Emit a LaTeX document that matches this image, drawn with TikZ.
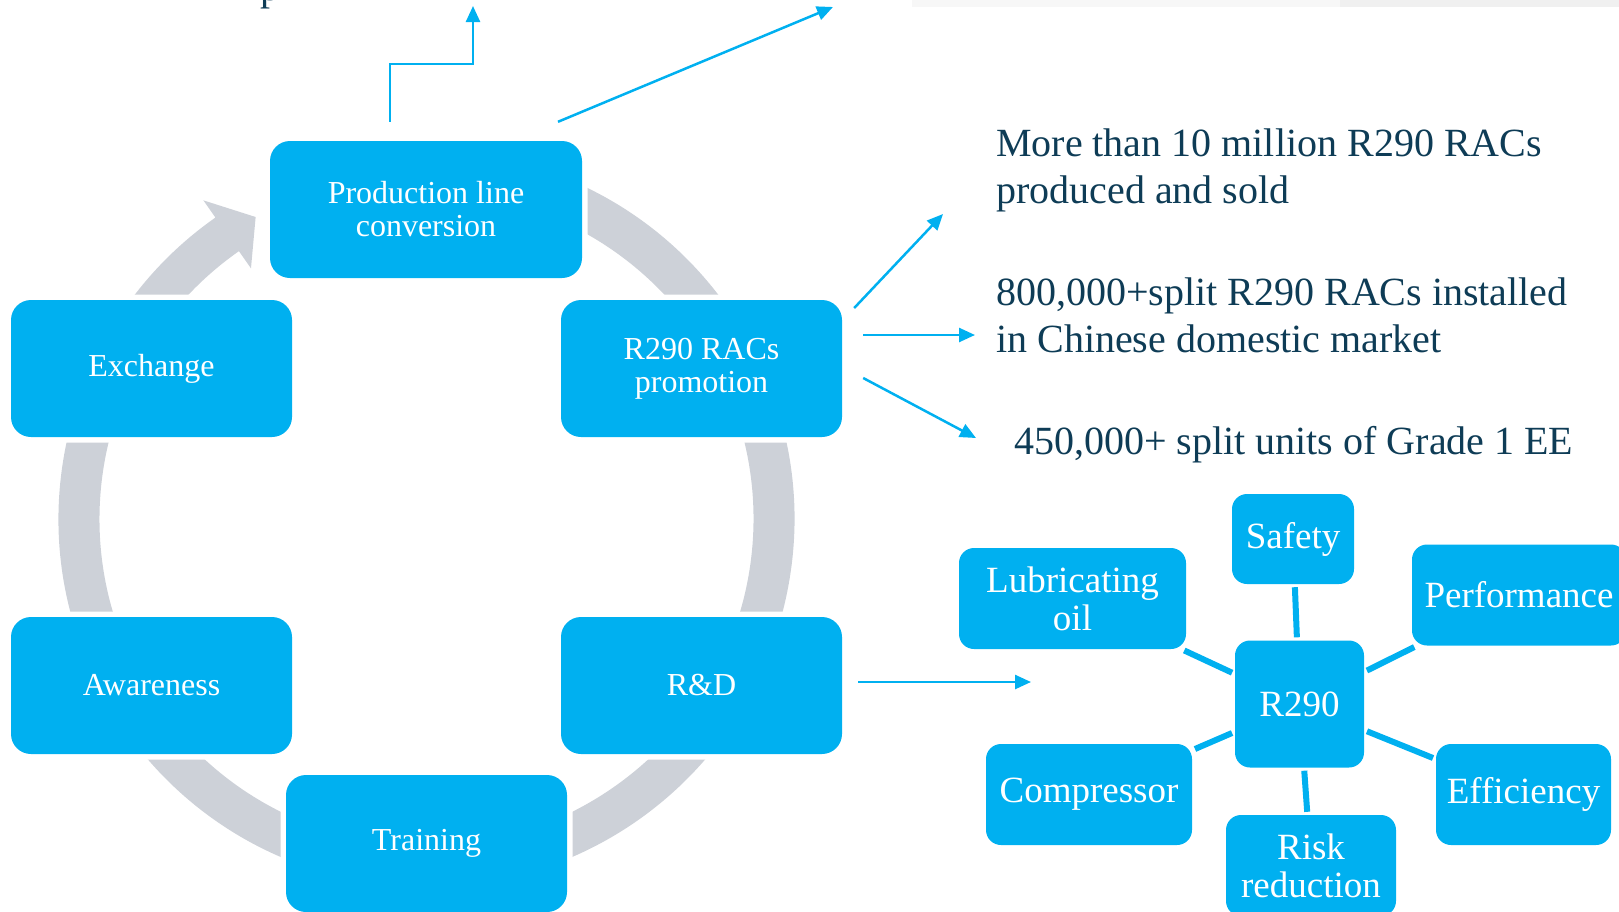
\documentclass[tikz,border=0pt]{standalone}
\usepackage{fontspec}
\setmainfont{Liberation Serif}
\usepackage{xcolor}
\usetikzlibrary{calc,arrows.meta}

\definecolor{boxblue}{RGB}{0,176,240}
\definecolor{ringgray}{RGB}{205,209,216}
\definecolor{notecol}{RGB}{14,60,86}

\tikzset{
  stage/.style={rectangle, rounded corners=20pt, fill=boxblue, text=white, align=center,
    minimum width=281pt, minimum height=137pt, inner sep=0pt,
    font=\fontsize{32}{33}\selectfont, preaction={draw=white, line width=11pt}},
  factor/.style={rectangle, rounded corners=15pt, fill=boxblue, text=white, align=center,
    minimum height=101pt, inner sep=0pt, font=\fontsize{37}{38}\selectfont},
  link/.style={draw=boxblue, line width=2.5pt, -{Triangle[length=16pt,width=14pt]}},
  spoke/.style={draw=boxblue, line width=6pt, shorten <=3pt, shorten >=3pt},
  note/.style={text=notecol, align=left, inner sep=0pt, font=\fontsize{40}{47.5}\selectfont}
}

\begin{document}
\begin{tikzpicture}[x=1pt, y=-1pt]
  \useasboundingbox (0,0) rectangle (1619,911);
  % faint band and cut-off text at the top
  \fill[black!3] (912,0) rectangle (1619,7);
  \fill[black!6] (1340,0) rectangle (1619,7);
  \node[note, anchor=base west] (frag) at (260,0) {p};

  % grey cycle ring with arrow head
  \coordinate (hub) at (426.5,519);
  \fill[ringgray] ($(hub)+(280:368)$) arc[start angle=280, end angle=595, radius=368]
    -- ($(hub)+(595:389)$) -- ($(hub)+(600.5:347)$) -- ($(hub)+(595:306)$)
    -- ($(hub)+(595:327)$) arc[start angle=595, end angle=280, radius=327] -- cycle;

  % cycle stages
  \node[stage, minimum width=312pt] (prod) at (426,209.5) {Production line\\conversion};
  \node[stage] (exch) at (151.5,368.5) {Exchange};
  \node[stage] (promo) at (701.5,368.5) {R290 RACs\\promotion};
  \node[stage] (aware) at (151.5,685.5) {Awareness};
  \node[stage] (rnd) at (701.5,685.5) {R\&D};
  \node[stage] (train) at (426.5,843.5) {Training};

  % free ends of the arrows
  \coordinate (upA) at (473,6);
  \coordinate (upB) at (833,7);
  \coordinate (outA) at (943,214);
  \coordinate (outB) at (975,335);
  \coordinate (outC) at (976,438);
  \coordinate (outD) at (1031,682);

  \draw[link] ([shift={(-36,-19)}]prod.north) |- (473,64) -- (upA);
  \draw[link] ([shift={(132,-19)}]prod.north) -- (upB);
  \draw[link] ([shift={(12,-60.5)}]promo.east) -- (outA);
  \draw[link] ([shift={(21,-33.5)}]promo.east) -- (outB);
  \draw[link] ([shift={(21,9.5)}]promo.east) -- (outC);
  \draw[link] ([shift={(16,-3.5)}]rnd.east) -- (outD);

  % results
  \node[note, anchor=base west] (sold) at (996,203.5) {More than 10 million R290 RACs\\produced and sold};
  \node[note, anchor=base west] (inst) at (996,352.5) {800,000+split R290 RACs installed\\in Chinese domestic market};
  \node[note, anchor=base west] (grade) at (1014,454) {450,000+ split units of Grade 1 EE};

  % R290 research topics
  \node[factor, minimum width=129pt, minimum height=127pt] (r290) at (1299.5,704) {R290};
  \node[factor, minimum width=122pt, minimum height=90pt] (safety) at (1293,539) {Safety};
  \node[factor, minimum width=227pt] (lube) at (1072.5,598.5) {Lubricating\\oil};
  \node[factor, minimum width=214pt] (perf) at (1519,595) {Performance};
  \node[factor, minimum width=206pt] (comp) at (1089,794.5) {Compressor};
  \node[factor, minimum width=175pt] (eff) at (1523.5,794.5) {Efficiency};
  \node[factor, minimum width=170pt] (risk) at (1311,865.5) {Risk\\reduction};

  \foreach \t in {safety,lube,perf,comp,eff,risk}
    \draw[spoke] (r290) -- (\t);
\end{tikzpicture}
\end{document}
